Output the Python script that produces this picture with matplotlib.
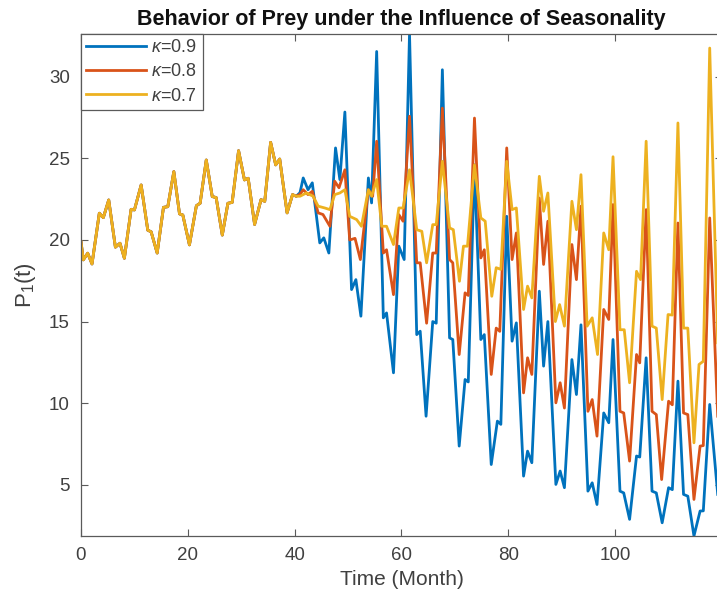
import numpy as np
import matplotlib
matplotlib.use('Agg')
import matplotlib.pyplot as plt

plt.rcParams['font.family'] = ['Liberation Sans', 'DejaVu Sans']
plt.rcParams['mathtext.fontset'] = 'custom'
plt.rcParams['mathtext.rm'] = 'Liberation Sans'
plt.rcParams['mathtext.it'] = 'Liberation Sans:italic'

# Shared part (all three curves overlap up to ~40 months)
t_common = [0, 0.43, 1.25, 2.06, 3.43, 4.18, 5.19, 6.44, 7.3, 8.12, 9.38, 10.0, 11.26, 12.5,
            13.13, 14.26, 15.44, 16.25, 17.38, 18.44, 19.06, 20.3, 21.6, 22.3, 23.45, 24.57,
            25.3, 26.45, 27.5, 28.3, 29.5, 30.6, 31.3, 32.5, 33.7, 34.4, 35.5, 36.45, 37.2,
            38.58, 39.6, 40.3]
p_common = [19.9, 18.78, 19.19, 18.53, 21.64, 21.37, 22.45, 19.56, 19.8, 18.88, 21.88, 21.84,
            23.37, 20.6, 20.5, 19.2, 22.0, 22.04, 24.19, 21.6, 21.53, 19.7, 22.1, 22.25, 24.9,
            22.66, 22.6, 20.3, 22.25, 22.3, 25.47, 23.68, 23.78, 20.95, 22.47, 22.37, 25.98,
            24.6, 24.96, 21.66, 22.78, 22.68]

# kappa = 0.9
t_k09 = [41.0, 41.6, 42.5, 43.3, 44.7, 45.45, 46.4, 47.65, 48.46, 49.4, 50.65, 51.46, 52.4,
         53.8, 54.4, 55.35, 56.6, 57.2, 58.5, 59.5, 60.5, 61.5, 62.85, 63.5, 64.6, 65.85, 66.5,
         67.65, 69.0, 69.6, 70.8, 71.9, 72.5, 73.66, 74.85, 75.5, 76.8, 77.95, 78.6, 79.7,
         80.7, 81.5, 82.85, 83.6, 84.4, 85.8, 86.6, 87.4, 88.9, 89.7, 90.5, 91.9, 92.75, 93.6,
         94.9, 95.7, 96.6, 97.86, 98.8, 99.6, 100.9, 101.6, 102.7, 104.0, 104.6, 105.8, 106.9,
         107.7, 108.8, 110.0, 110.7, 111.75, 112.8, 113.6, 114.75, 115.9, 116.5, 117.7, 119.2]
p_k09 = [22.9, 23.8, 23.08, 23.5, 19.82, 20.13, 19.2, 25.64, 23.7, 27.84, 16.96, 17.57, 15.33,
         23.8, 22.27, 31.55, 15.23, 15.53, 11.86, 19.62, 18.8, 32.64, 14.2, 14.41, 9.2, 15.0,
         14.9, 30.43, 14.0, 13.9, 7.37, 11.45, 11.3, 24.6, 13.9, 14.2, 6.24, 8.9, 8.7, 21.45,
         13.8, 14.92, 5.53, 7.06, 6.35, 16.86, 12.27, 15.0, 5.02, 5.84, 4.82, 12.67, 10.53,
         14.8, 4.61, 5.12, 3.79, 9.4, 8.8, 13.9, 4.61, 4.5, 2.88, 6.76, 6.7, 12.78, 4.61, 4.5,
         2.67, 4.82, 4.7, 11.35, 4.41, 4.3, 1.86, 3.39, 3.4, 9.92, 4.41]

# kappa = 0.8
t_k08 = [41.0, 41.6, 42.5, 43.3, 44.4, 45.3, 46.6, 47.5, 48.3, 49.4, 50.3, 51.3, 52.3, 53.8,
         54.6, 55.35, 56.6, 57.2, 58.5, 59.5, 60.3, 61.5, 62.85, 63.5, 64.7, 65.85, 66.5, 67.65,
         69.0, 69.6, 70.8, 71.9, 72.5, 73.66, 74.85, 75.5, 76.8, 77.73, 78.4, 79.7, 80.7, 81.5,
         82.85, 83.6, 84.4, 85.8, 86.6, 87.4, 88.9, 89.7, 90.5, 91.9, 92.75, 93.6, 94.9, 95.7,
         96.6, 97.86, 98.8, 99.6, 100.9, 101.6, 102.7, 104.0, 104.6, 105.8, 106.9, 107.7, 108.7,
         110.0, 110.7, 111.75, 112.8, 113.6, 114.75, 115.9, 116.5, 117.7, 119.2]
p_k08 = [22.8, 23.08, 22.78, 22.98, 21.66, 21.56, 20.84, 23.6, 23.2, 24.3, 20.0, 20.1, 18.8,
         23.08, 22.68, 26.05, 19.2, 19.4, 16.65, 21.55, 21.15, 27.58, 18.6, 18.6, 14.9, 19.2,
         19.2, 28.08, 18.8, 18.6, 12.98, 16.76, 16.6, 27.47, 18.9, 19.4, 11.76, 14.6, 14.4,
         25.64, 18.8, 20.43, 10.63, 12.78, 11.76, 22.57, 18.5, 21.15, 10.02, 11.25, 9.7, 19.72,
         17.57, 22.07, 9.5, 10.22, 7.98, 15.74, 15.13, 22.17, 9.5, 9.4, 6.45, 12.98, 12.47,
         21.86, 9.5, 9.3, 5.32, 10.12, 9.9, 21.04, 9.4, 9.3, 4.1, 7.37, 7.4, 21.35, 9.2]

# kappa = 0.7
t_k07 = [41.0, 42.2, 43.45, 44.4, 45.65, 46.6, 47.5, 48.46, 49.4, 50.3, 51.6, 52.5, 53.8, 54.4,
         55.35, 56.3, 57.2, 58.5, 59.5, 60.3, 61.5, 62.85, 63.8, 64.7, 65.85, 66.5, 67.65, 69.0,
         69.7, 70.85, 71.6, 72.35, 73.66, 74.85, 75.67, 76.9, 77.73, 78.6, 79.7, 80.7, 81.5,
         82.85, 83.6, 84.4, 85.8, 86.6, 87.4, 88.8, 89.6, 90.5, 91.9, 92.75, 93.6, 94.75, 95.7,
         96.7, 97.86, 98.8, 99.6, 100.9, 101.7, 102.7, 104.0, 104.75, 105.8, 106.9, 107.7,
         108.8, 109.9, 110.7, 111.75, 112.8, 113.6, 114.75, 115.7, 116.5, 117.7, 119.2]
p_k07 = [22.68, 22.88, 22.68, 22.07, 21.96, 21.86, 22.78, 22.88, 23.08, 21.45, 21.25, 20.84,
         23.08, 22.68, 23.7, 20.84, 20.84, 19.72, 21.96, 21.96, 24.3, 20.63, 20.53, 18.6, 20.94,
         20.94, 24.82, 20.74, 20.63, 17.47, 19.62, 19.62, 24.6, 21.35, 21.15, 16.55, 18.3, 18.2,
         24.82, 21.86, 21.96, 15.74, 17.17, 16.45, 23.9, 21.76, 22.88, 15.0, 16.04, 14.72,
         22.37, 20.63, 24.0, 14.72, 15.23, 12.98, 20.43, 19.4, 25.1, 14.5, 14.5, 11.25, 18.08,
         17.57, 26.05, 14.72, 14.6, 10.22, 15.43, 15.4, 27.17, 14.6, 14.6, 7.57, 12.37, 12.57,
         31.76, 13.7]

series = [
    (t_k09, p_k09, '#0072BD', r'$\kappa$=0.9'),
    (t_k08, p_k08, '#D95319', r'$\kappa$=0.8'),
    (t_k07, p_k07, '#EDB120', r'$\kappa$=0.7'),
]

fig = plt.figure(figsize=(7.17, 6.07), dpi=100)
ax = fig.add_axes([81 / 717, 71 / 607, 641 / 717, 502.3 / 607])

for t, p, color, label in series:
    ax.plot(t_common + t, p_common + p, color=color, lw=2.0, label=label,
            solid_joinstyle='round')

ax.set_xlim(0, 120)
ax.set_ylim(1.86, 32.64)
ax.set_xticks([0, 20, 40, 60, 80, 100])
ax.set_yticks([5, 10, 15, 20, 25, 30])

gray = '#404040'
for s in ax.spines.values():
    s.set_color('#5a5a5a')
    s.set_linewidth(0.9)
ax.tick_params(direction='in', length=5, width=0.8, colors='#5a5a5a', labelcolor=gray,
               labelsize=13.5, top=True, right=True, pad=8)

ax.set_xlabel('Time (Month)', fontsize=15, color=gray, labelpad=4)
ax.set_ylabel(r'P$_1$(t)', fontsize=16, color=gray, labelpad=8)
ax.set_title('Behavior of Prey under the Influence of Seasonality', fontsize=15.5,
             fontweight='bold', color='#111111', pad=6)

leg = ax.legend(loc='upper left', bbox_to_anchor=(0.0, 1.0), borderaxespad=0.0,
                fontsize=13, handlelength=3.3, handletextpad=0.3, labelspacing=0.4,
                borderpad=0.3, fancybox=False, framealpha=1)
leg.get_frame().set_edgecolor('#5a5a5a')
leg.get_frame().set_linewidth(0.9)
for txt in leg.get_texts():
    txt.set_color(gray)

fig.savefig('out.png', dpi=100)
